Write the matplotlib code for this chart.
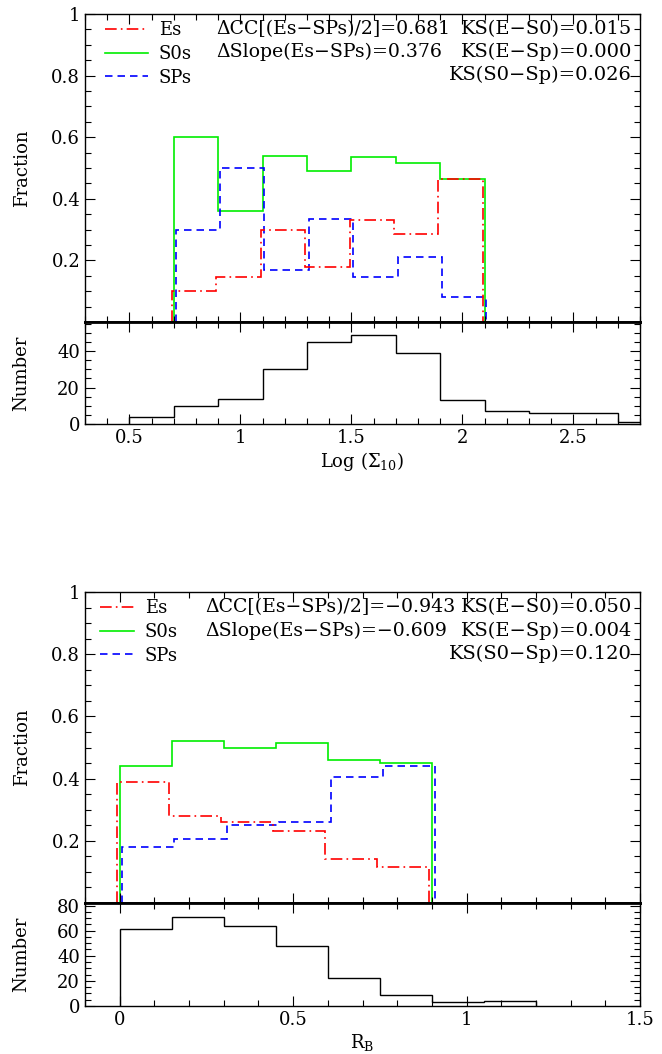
import matplotlib
matplotlib.use("Agg")
import matplotlib.pyplot as plt
from matplotlib.lines import Line2D
from matplotlib.ticker import MultipleLocator, FixedLocator
import numpy as np

plt.rcParams['font.family'] = ['DejaVu Serif']
plt.rcParams['mathtext.fontset'] = 'dejavuserif'

# ---------------- data ----------------
sigma_edges = [0.7, 0.9, 1.1, 1.3, 1.5, 1.7, 1.9, 2.1]
sigma_es = [0.10, 0.145, 0.30, 0.18, 0.33, 0.285, 0.465]
sigma_s0 = [0.60, 0.36, 0.54, 0.49, 0.535, 0.515, 0.465]
sigma_sp = [0.30, 0.50, 0.17, 0.335, 0.145, 0.21, 0.08]
sigma_num_edges = [0.5, 0.7, 0.9, 1.1, 1.3, 1.5, 1.7, 1.9, 2.1, 2.3, 2.5, 2.7, 2.9]
sigma_num = [4, 10, 14, 30, 45, 49, 39, 13, 7, 6, 6, 1]
sigma_stats = ["\u0394CC[(Es\u2212SPs)/2]=0.681", "\u0394Slope(Es\u2212SPs)=0.376"]
sigma_ks = ["KS(E\u2212S0)=0.015", "KS(E\u2212Sp)=0.000", "KS(S0\u2212Sp)=0.026"]

rb_edges = [0.0, 0.15, 0.30, 0.45, 0.60, 0.75, 0.90]
rb_es = [0.39, 0.28, 0.26, 0.23, 0.14, 0.115]
rb_s0 = [0.44, 0.52, 0.50, 0.515, 0.46, 0.45]
rb_sp = [0.18, 0.205, 0.25, 0.26, 0.405, 0.44]
rb_num_edges = [0.0, 0.15, 0.30, 0.45, 0.60, 0.75, 0.90, 1.05, 1.20]
rb_num = [61, 71, 64, 48, 22, 9, 3, 4]
rb_stats = ["\u0394CC[(Es\u2212SPs)/2]=\u22120.943", "\u0394Slope(Es\u2212SPs)=\u22120.609"]
rb_ks = ["KS(E\u2212S0)=0.050", "KS(E\u2212Sp)=0.004", "KS(S0\u2212Sp)=0.120"]

labels = ["Es", "S0s", "SPs"]
colors = ["#ff0000", "#00ee00", "#0000ff"]
styles = [(0, (7, 2.5, 1, 2.5)), "-", (0, (4.5, 3))]
FS = 13
FS_STAT = 13.6
FS_KS = 14

W, H = 662, 1054
fig = plt.figure(figsize=(W / 100, H / 100), dpi=100)


def rect(l, t, r, b):
    return [l / W, 1 - b / H, (r - l) / W, (b - t) / H]


def style_axis(ax):
    ax.tick_params(which='both', direction='in', top=True, right=True,
                   labelsize=FS, width=0.8, colors='black')
    ax.tick_params(which='major', length=7)
    ax.tick_params(which='minor', length=4)
    for s in ax.spines.values():
        s.set_linewidth(1.0)


def frac_panel(ax, edges, es, s0, sp, xlim, dx, stats, ks, handlelen, leg_x, stat_x):
    e = np.asarray(edges)
    for vals, c, ls, off in zip([s0, sp, es], [colors[1], colors[2], colors[0]],
                                [styles[1], styles[2], styles[0]], [0, dx, -dx]):
        ax.stairs(vals, e + off, baseline=0, fill=False, color=c,
                  linestyle=ls, linewidth=1.2)
    ax.set_xlim(*xlim)
    ax.set_ylim(0, 1)
    ax.yaxis.set_major_locator(FixedLocator([0.2, 0.4, 0.6, 0.8, 1.0]))
    ax.yaxis.set_major_formatter(plt.FuncFormatter(lambda v, p: "1" if abs(v - 1) < 1e-6 else f"{v:.1f}"))
    ax.yaxis.set_minor_locator(MultipleLocator(0.05))
    ax.xaxis.set_major_locator(MultipleLocator(0.5))
    ax.xaxis.set_minor_locator(MultipleLocator(0.1))
    style_axis(ax)
    ax.tick_params(labelbottom=False)
    ax.spines['bottom'].set_linewidth(2.0)
    ax.set_ylabel("Fraction", fontsize=FS)
    ax.yaxis.set_label_coords(-0.098, 0.5)
    handles = [Line2D([], [], color=c, linestyle=ls, linewidth=1.2)
               for c, ls in zip(colors, styles)]
    ax.legend(handles, labels, loc='upper left', bbox_to_anchor=(leg_x, 0.982),
              frameon=False, fontsize=FS, handlelength=handlelen,
              handletextpad=0.6, labelspacing=0.31, borderpad=0.1,
              borderaxespad=0)
    rows = [0.951, 0.876, 0.802]
    for t, y in zip(stats, rows[:2]):
        ax.text(stat_x, y, t, transform=ax.transAxes, fontsize=FS_STAT, va='center', ha='left')
    for t, y in zip(ks, rows):
        ax.text(0.986, y, t, transform=ax.transAxes, fontsize=FS_KS, va='center', ha='right')


def num_panel(ax, edges, nums, ymax, ymaj, xlabel):
    ax.stairs(nums, edges, baseline=0, fill=False, color='black', linewidth=1.0)
    ax.set_ylim(0, ymax)
    ax.yaxis.set_major_locator(MultipleLocator(ymaj))
    ax.yaxis.set_minor_locator(MultipleLocator(5))
    style_axis(ax)
    ax.spines['top'].set_linewidth(2.0)
    ax.set_ylabel("Number", fontsize=FS)
    ax.yaxis.set_label_coords(-0.098, 0.5)
    ax.set_xlabel(xlabel, fontsize=FS, labelpad=2)


ax1 = fig.add_axes(rect(85, 14, 640, 322))
ax2 = fig.add_axes(rect(85, 322, 640, 424), sharex=ax1)
ax3 = fig.add_axes(rect(85, 592, 640, 903))
ax4 = fig.add_axes(rect(85, 903, 640, 1006), sharex=ax3)

frac_panel(ax1, sigma_edges, sigma_es, sigma_s0, sigma_sp, (0.3, 2.8), 0.008,
           sigma_stats, sigma_ks, 2.4, 0.032, 0.237)
num_panel(ax2, sigma_num_edges, sigma_num, 56, 20, r"Log ($\Sigma_{10}$)")

frac_panel(ax3, rb_edges, rb_es, rb_s0, rb_sp, (-0.1, 1.5), 0.008,
           rb_stats, rb_ks, 1.9, 0.023, 0.216)
num_panel(ax4, rb_num_edges, rb_num, 82, 20, r"R$_{\rm B}$")

for ax in (ax2, ax4):
    ax.xaxis.set_major_formatter(plt.FuncFormatter(lambda v, p: f"{v:g}"))

fig.savefig("out.png", dpi=100)
